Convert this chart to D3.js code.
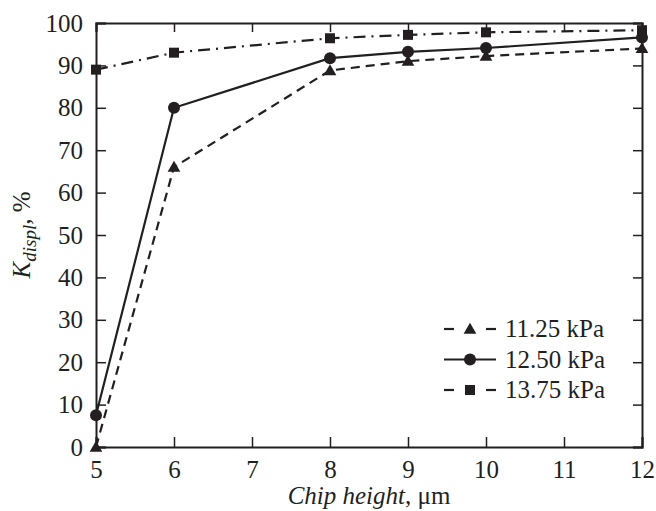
<!DOCTYPE html>
<html>
<head>
<meta charset="utf-8">
<script src="https://cdn.jsdelivr.net/npm/d3@7"></script>
</head>
<body style="margin:0">
<div id="chart"></div>
<script>
var xValues = [5, 6, 8, 9, 10, 12];
var xTicks = [5, 6, 7, 8, 9, 10, 11, 12];
var yTicks = [0, 10, 20, 30, 40, 50, 60, 70, 80, 90, 100];
var seriesNames = ["11.25 kPa", "12.50 kPa", "13.75 kPa"];
var kpa1125 = [0, 66, 88.8, 91, 92.2, 94];
var kpa1250 = [7.5, 80, 91.7, 93.2, 94.1, 96.6];
var kpa1375 = [89, 93, 96.4, 97.2, 97.8, 98.3];

var W = 656, H = 511;
var margin = {top: 23, right: 14, bottom: 64, left: 96};
var ink = "#231f20";
var FONT = "Liberation Serif";

var svg = d3.select("#chart").append("svg")
	.attr("width", W)
	.attr("height", H);

var x = d3.scaleLinear()
	.domain([5, 12])
	.range([margin.left, W - margin.right]);

var y = d3.scaleLinear()
	.domain([0, 100])
	.range([H - margin.bottom, margin.top]);

// ticks point inward on all sides
svg.append("g")
	.attr("transform", "translate(0," + y(0) + ")")
	.call(d3.axisBottom(x).tickValues(xTicks).tickSize(-10).tickPadding(13).tickFormat(d3.format("d")))
	.call(styleAxis);

svg.append("g")
	.attr("transform", "translate(" + x(5) + ",0)")
	.call(d3.axisLeft(y).tickValues(yTicks).tickSize(-10).tickPadding(13))
	.call(styleAxis);

svg.append("g")
	.attr("transform", "translate(0," + y(100) + ")")
	.call(d3.axisTop(x).tickValues(xTicks).tickSize(-9).tickFormat(""))
	.call(styleAxis);

svg.append("g")
	.attr("transform", "translate(" + x(12) + ",0)")
	.call(d3.axisRight(y).tickValues(yTicks).tickSize(-9).tickFormat(""))
	.call(styleAxis);

function styleAxis(g) {
	g.attr("font-family", FONT).attr("font-size", 25);
	g.select(".domain").attr("stroke", ink).attr("stroke-width", 2);
	g.selectAll(".tick line").attr("stroke", ink).attr("stroke-width", 1.5);
	g.selectAll(".tick text").attr("fill", ink).attr("font-family", FONT).attr("font-size", 25);
}

var series = [
	{name: seriesNames[0], values: kpa1125, dash: "9,6", marker: "triangle"},
	{name: seriesNames[1], values: kpa1250, dash: null, marker: "circle"},
	{name: seriesNames[2], values: kpa1375, dash: "12,6,2,6", marker: "square"}
];

var line = d3.line()
	.x(function(d, i) { return x(xValues[i]); })
	.y(function(d) { return y(d); });

function drawMarker(g, type, cx, cy) {
	if (type === "circle") {
		g.append("circle").attr("cx", cx).attr("cy", cy).attr("r", 6).attr("fill", ink);
	} else if (type === "square") {
		g.append("rect").attr("x", cx - 5).attr("y", cy - 5).attr("width", 10).attr("height", 10).attr("fill", ink);
	} else {
		g.append("path")
			.attr("d", d3.symbol().type(d3.symbolTriangle).size(70)())
			.attr("transform", "translate(" + cx + "," + (cy + 1) + ")")
			.attr("fill", ink);
	}
}

series.forEach(function(s) {
	svg.append("path")
		.datum(s.values)
		.attr("fill", "none")
		.attr("stroke", ink)
		.attr("stroke-width", 2.2)
		.attr("stroke-dasharray", s.dash)
		.attr("d", line);
	var g = svg.append("g");
	s.values.forEach(function(v, i) {
		drawMarker(g, s.marker, x(xValues[i]), y(v));
	});
});

// legend
var legend = svg.append("g");
series.forEach(function(s, i) {
	var ly = 329 + i * 30.5;
	var l = legend.append("g");
	if (s.dash) {
		l.append("line").attr("x1", 444).attr("x2", 454).attr("y1", ly).attr("y2", ly).attr("stroke", ink).attr("stroke-width", 2.2);
		l.append("line").attr("x1", 486).attr("x2", 496).attr("y1", ly).attr("y2", ly).attr("stroke", ink).attr("stroke-width", 2.2);
	} else {
		l.append("line").attr("x1", 444).attr("x2", 496).attr("y1", ly).attr("y2", ly).attr("stroke", ink).attr("stroke-width", 2.2);
	}
	drawMarker(l, s.marker, 470, ly);
	l.append("text")
		.attr("x", 505)
		.attr("y", ly + 8)
		.attr("font-family", FONT)
		.attr("font-size", 25)
		.attr("fill", ink)
		.text(s.name);
});

// axis titles
var xt = svg.append("text")
	.attr("x", (x(5) + x(12)) / 2)
	.attr("y", 504)
	.attr("text-anchor", "middle")
	.attr("font-family", FONT)
	.attr("font-size", 25)
	.attr("fill", ink);
xt.append("tspan").attr("font-style", "italic").text("Chip height");
xt.append("tspan").text(", μm");

var yt = svg.append("text")
	.attr("transform", "translate(30," + ((y(0) + y(100)) / 2) + ") rotate(-90)")
	.attr("text-anchor", "middle")
	.attr("font-family", FONT)
	.attr("font-size", 25)
	.attr("fill", ink);
yt.append("tspan").attr("font-style", "italic").text("K");
yt.append("tspan").attr("font-style", "italic").attr("font-size", 19).attr("dy", 6).text("displ");
yt.append("tspan").attr("dy", -6).text(", %");
</script>
</body>
</html>
